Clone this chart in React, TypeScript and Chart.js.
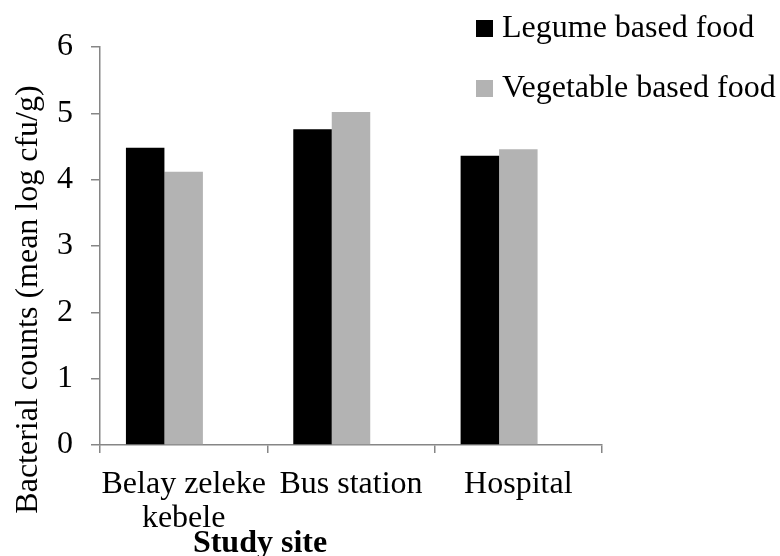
import React, { useEffect, useRef } from "react";
import { Chart, registerables } from "chart.js";

Chart.register(...registerables);

const categories: (string | string[])[] = [["Belay zeleke", "kebele"], "Bus station", "Hospital"];
const legumeValues = [4.48, 4.76, 4.36];
const vegetableValues = [4.12, 5.02, 4.46];
const emptySlotValues = [null, null, null];
const seriesNames = ["Legume based food", "Vegetable based food"];
const seriesColors = ["#000000", "#b3b3b3"];
const yAxisTitle = "Bacterial counts (mean log cfu/g)";
const xAxisTitle = "Study site";
const yMin = 0;
const yMax = 6;
const yStep = 1;

const FONT = "'Liberation Serif', 'Times New Roman', serif";
const AXIS = "#868686";

const overlayPlugin = {
  id: "overlayText",
  afterDraw(chart: any) {
    const ctx = chart.ctx as CanvasRenderingContext2D;
    ctx.save();
    ctx.textBaseline = "alphabetic";
    ctx.font = `32px ${FONT}`;
    seriesNames.forEach((name, i) => {
      const baseline = 37 + i * 60;
      ctx.fillStyle = seriesColors[i];
      ctx.fillRect(476, baseline - 17, 17, 17);
      ctx.fillStyle = "#000";
      ctx.textAlign = "left";
      ctx.fillText(name, 502, baseline);
    });
    ctx.save();
    ctx.translate(37, 299.5);
    ctx.rotate(-Math.PI / 2);
    ctx.textAlign = "center";
    ctx.fillStyle = "#000";
    ctx.fillText(yAxisTitle, 0, 0);
    ctx.restore();
    ctx.font = `bold 32px ${FONT}`;
    ctx.textAlign = "center";
    ctx.fillStyle = "#000";
    ctx.fillText(xAxisTitle, 260, 552);
    ctx.restore();
  },
};

export default function App() {
  const canvasRef = useRef<HTMLCanvasElement | null>(null);

  useEffect(() => {
    if (!canvasRef.current) return;
    const chart = new Chart(canvasRef.current, {
      type: "bar",
      data: {
        labels: categories as any,
        datasets: [
          { label: seriesNames[0], data: legumeValues, backgroundColor: seriesColors[0], borderWidth: 0 },
          { label: seriesNames[1], data: vegetableValues, backgroundColor: seriesColors[1], borderWidth: 0 },
          { label: "", data: emptySlotValues as any, backgroundColor: "rgba(0,0,0,0)", borderWidth: 0 },
        ],
      },
      options: {
        animation: false,
        responsive: false,
        layout: { padding: { top: 47, right: 178, bottom: 0, left: 0 } },
        plugins: { legend: { display: false }, tooltip: { enabled: false } },
        datasets: { bar: { categoryPercentage: 0.69, barPercentage: 1 } },
        scales: {
          x: {
            offset: true,
            grid: {
              display: true,
              drawOnChartArea: false,
              drawTicks: true,
              tickLength: 8,
              color: AXIS,
              lineWidth: 1.5,
              offset: true,
            },
            border: { display: true, color: AXIS, width: 1.5 },
            ticks: {
              color: "#000",
              font: { family: FONT, size: 32, lineHeight: 1.06 },
              padding: 15,
              maxRotation: 0,
              minRotation: 0,
              autoSkip: false,
            },
            afterFit: (s: any) => {
              s.height = 111;
            },
          },
          y: {
            min: yMin,
            max: yMax,
            ticks: {
              stepSize: yStep,
              color: "#000",
              font: { family: FONT, size: 32 },
              padding: 18,
            },
            grid: {
              display: true,
              drawOnChartArea: false,
              drawTicks: true,
              tickLength: 9,
              color: AXIS,
              lineWidth: 1.5,
            },
            border: { display: true, color: AXIS, width: 1.5 },
            afterFit: (s: any) => {
              s.width = 100;
            },
          },
        },
      } as any,
      plugins: [overlayPlugin],
    });
    return () => chart.destroy();
  }, []);

  return (
    <div style={{ position: "absolute", left: 0, top: 0, width: 780, height: 556, background: "#fff" }}>
      <canvas ref={canvasRef} width={780} height={556} style={{ display: "block", width: 780, height: 556 }} />
    </div>
  );
}
